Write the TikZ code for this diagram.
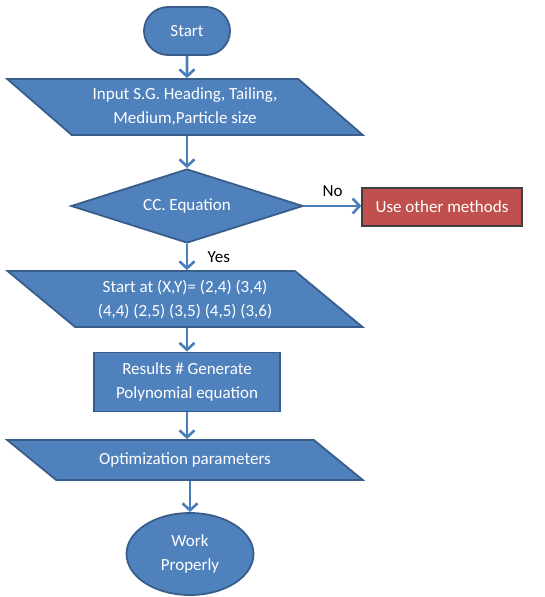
\documentclass[tikz,border=0pt]{standalone}
\usepackage{fontspec}
\setmainfont{Carlito}
\usepackage{xcolor}
\usetikzlibrary{shapes.geometric, shapes.misc, arrows.meta}
\definecolor{boxblue}{HTML}{4F81BD}
\definecolor{edgeblue}{HTML}{385D8A}
\definecolor{arrowblue}{HTML}{4A7EBB}
\definecolor{boxred}{HTML}{C0504D}

\begin{document}
\begin{tikzpicture}[
    x=1pt, y=-1pt,
    every node/.style={font=\fontsize{17}{24}\selectfont},
    flowbox/.style={draw=edgeblue, line width=1.8pt, fill=boxblue, text=white, align=center, inner sep=2pt},
    terminal/.style={flowbox, rounded rectangle, minimum width=90pt, minimum height=48pt},
    io/.style={flowbox, trapezium, trapezium left angle=180-#1, trapezium right angle=#1, trapezium stretches=true, minimum width=356pt},
    io/.default=38,
    decision/.style={flowbox, diamond, aspect=3.1, minimum width=232pt, minimum height=74pt},
    process/.style={flowbox, rectangle, minimum width=186pt, minimum height=59pt},
    arrow/.style={-{Straight Barb[length=7pt, width=15pt, line width=2.6pt]}, draw=arrowblue, line width=2.8pt}
]
    \useasboundingbox (0,0) rectangle (544,597);

    % Nodes
    \node[terminal] (start) at (187,31) {Start};
    \node[io, minimum height=56pt] (input) at (185,107) {Input S.G. Heading, Tailing,\\Medium,Particle size};
    \node[decision] (cc) at (187,206) {CC. Equation};
    \node[rectangle, draw=black!75, line width=1.2pt, fill=boxred, text=white, minimum width=160pt, minimum height=38pt] (other) at (442,207) {Use other methods};
    \node[io, minimum height=56pt] (points) at (185,299) {Start at (X,Y)= (2,4) (3,4)\\(4,4) (2,5) (3,5) (4,5) (3,6)};
    \node[process] (results) at (187,382) {Results \# Generate\\Polynomial equation};
    \node[io=29, minimum height=40pt] (optim) at (185,460) {Optimization parameters};
    \node[flowbox, ellipse, minimum width=127pt, minimum height=82pt] (work) at (190,554) {Work\\Properly};

    % Arrows
    \draw[arrow] (start) -- (start |- input.north);
    \draw[arrow] (input.south -| cc) -- (cc.north);
    \draw[arrow] (cc.east) -- node[above=5pt, text=black] {No} (cc.east -| other.west);
    \draw[arrow] (cc.south) -- node[right=16pt, text=black] {Yes} (cc.south |- points.north);
    \draw[arrow] (points.south -| results) -- (results.north);
    \draw[arrow] (results.south) -- (results.south |- optim.north);
    \draw[arrow] (optim.south -| work) -- (work.north);
\end{tikzpicture}
\end{document}
